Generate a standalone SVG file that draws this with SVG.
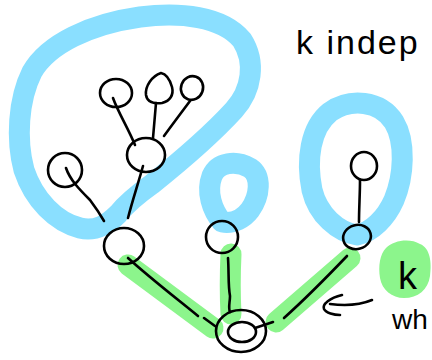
<svg xmlns="http://www.w3.org/2000/svg" width="432" height="360" viewBox="0 0 432 360">
<style>
.blue{fill:none;stroke:#8ADFFF;stroke-width:21;stroke-linecap:round;stroke-linejoin:round}
.green{fill:none;stroke:#8CF58C;stroke-width:21;stroke-linecap:round;stroke-linejoin:round}
.ink{fill:none;stroke:#000;stroke-width:2.6;stroke-linecap:round;stroke-linejoin:round}
.node{fill:none;stroke:#000;stroke-width:2.6}
.hand{font-family:"Liberation Sans","DejaVu Sans",sans-serif;fill:#000}
</style>
<rect width="432" height="360" fill="#fff"/>
<g id="highlights">
<path class="blue" d="M118,214 C108,224 96,232 80,228 C56,222 34,200 24,170 C16,140 18,100 32,72 C48,44 90,24 140,17 C180,12 222,16 242,40 C256,62 252,90 234,110 C212,134 182,160 152,184 C138,194 126,204 118,214 Z"/>
<path class="blue" d="M222,222 C212,210 206,192 212,176 C218,162 236,160 250,168 C262,176 260,196 250,210 C244,218 234,224 222,222 Z"/>
<path class="blue" d="M357,235 C338,232 318,215 312,190 C306,160 310,128 330,112 C350,98 380,100 394,122 C406,142 404,176 394,200 C386,218 372,232 357,235 Z"/>
<path class="green" d="M128,265 L213,328"/>
<path class="green" d="M231,254 C230,275 230,295 231,314"/>
<path class="green" d="M350,258 L276,322"/>
<path fill="#8CF58C" d="M386,248 C394,240 410,238 420,244 C430,248 432,262 430,276 C428,290 418,298 404,298 C392,298 382,290 380,278 C378,266 380,254 386,248 Z"/>
</g>
<g id="connectors">
<path class="ink" d="M113,98 C118,112 128,128 135,145"/>
<path class="ink" d="M156,103 C155,115 154,127 153,138"/>
<path class="ink" d="M190,101 C181,113 172,125 164,136"/>
<path class="ink" d="M143,166 C138,184 132,202 128,218"/>
<path class="ink" d="M66,168 C70,180 80,190 90,200 C96,208 100,214 104,221"/>
<path class="ink" d="M128,258 C150,278 176,298 198,316"/>
<path class="ink" d="M204,318 L215,326"/>
<path class="ink" d="M228,258 C229,272 228,286 230,296 C230,302 228,308 230,312"/>
<path class="ink" d="M347,256 C326,278 304,300 284,318"/>
<path class="ink" d="M273,322 L255,328"/>
<path class="ink" d="M360,180 C360,194 359,208 359,222"/>
<path class="ink" d="M372,300 C360,305 345,306 330,304"/>
<path class="ink" d="M342,295 C330,298 322,304 324,309 C326,313 334,315 340,315"/>
</g>
<g id="n-root"><ellipse class="node" cx="241" cy="331" rx="25" ry="21"/><ellipse class="node" cx="242" cy="332" rx="14" ry="10"/></g>
<g id="n-left"><ellipse class="node" cx="124" cy="246" rx="20" ry="18"/></g>
<g id="n-mid"><ellipse class="node" cx="222" cy="237" rx="16" ry="16"/></g>
<g id="n-right"><ellipse class="node" cx="357" cy="237" rx="14" ry="12" transform="rotate(-15 357 237)"/></g>
<g id="n-rightleaf"><ellipse class="node" cx="364" cy="166" rx="13" ry="14"/></g>
<g id="n-leftleaf"><ellipse class="node" cx="65" cy="170" rx="17" ry="17"/></g>
<g id="n-hub"><ellipse class="node" cx="146" cy="155" rx="19" ry="17"/></g>
<g id="n-leaf1"><ellipse class="node" cx="116" cy="93" rx="16" ry="14"/></g>
<g id="n-leaf2"><path class="node" d="M161,73 C152,76 145,86 146,95 C147,102 154,104 162,103 C170,101 174,95 172,87 C170,80 166,74 161,73 Z"/></g>
<g id="n-leaf3"><ellipse class="node" cx="192" cy="88" rx="11" ry="12" transform="rotate(20 192 88)"/></g>
<g id="labels">
<text class="hand" x="296" y="54" font-size="34" letter-spacing="2">k indep</text>
<text class="hand" x="398" y="289" font-size="38">k</text>
<text class="hand" x="392" y="329" font-size="28">wh</text>
</g>
</svg>
